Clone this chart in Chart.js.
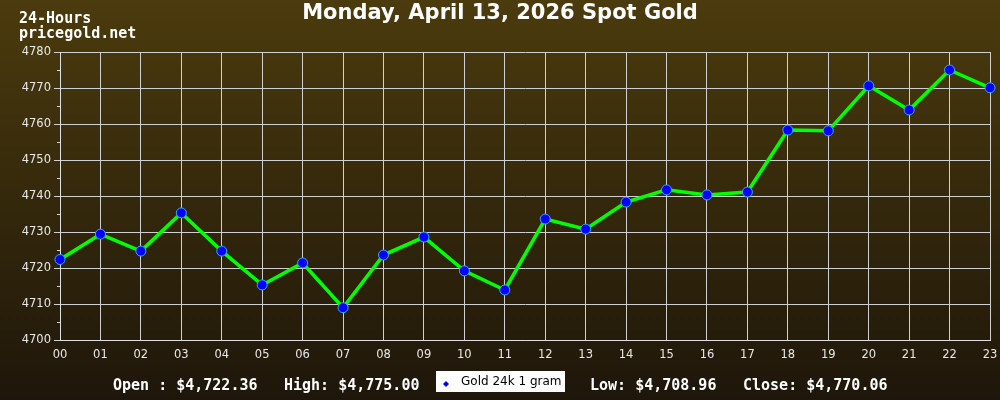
<!DOCTYPE html>
<html>
<head>
<meta charset="utf-8">
<script src="https://cdn.jsdelivr.net/npm/chart.js@4/dist/chart.umd.min.js"></script>
<style>
  html, body { margin: 0; padding: 0; background: #2a200b; }
  #wrap { width: 1000px; height: 400px; }
</style>
</head>
<body>
<div id="wrap"><canvas id="goldChart" width="1000" height="400"></canvas></div>
<script>
const hours = ["00","01","02","03","04","05","06","07","08","09","10","11",
  "12","13","14","15","16","17","18","19","20","21","22","23"];
const prices = [4722.36, 4729.4, 4724.7, 4735.3, 4724.7, 4715.3, 4721.4, 4708.96,
  4723.6, 4728.6, 4719.2, 4713.9, 4733.6, 4730.8, 4738.3, 4741.7,
  4740.3, 4741.1, 4758.3, 4758.1, 4770.6, 4763.9, 4775.0, 4770.06];
const yTicks = [4700, 4710, 4720, 4730, 4740, 4750, 4760, 4770, 4780];
const title = "Monday, April 13, 2026 Spot Gold";
const seriesName = "Gold 24k 1 gram";
const stats = ["Open : $4,722.36", "High: $4,775.00", "Low: $4,708.96", "Close: $4,770.06"];

// background, header, footer, legend box, minor ticks
const decor = {
  id: "decor",
  beforeDraw(chart) {
    const ctx = chart.ctx;
    const g = ctx.createLinearGradient(0, 0, 0, chart.height);
    g.addColorStop(0, "#4b3b0d");
    g.addColorStop(1, "#1e160a");
    ctx.save();
    ctx.fillStyle = g;
    ctx.fillRect(0, 0, chart.width, chart.height);
    ctx.restore();
  },
  afterDraw(chart) {
    const ctx = chart.ctx;
    const y = chart.scales.y;
    const area = chart.chartArea;
    ctx.save();
    // minor ticks at the 5s
    ctx.strokeStyle = "#d8d8d8";
    ctx.lineWidth = 1;
    for (let v = 4705; v < 4780; v += 10) {
      const py = Math.round(y.getPixelForValue(v)) + 0.5;
      ctx.beginPath();
      ctx.moveTo(area.left - 3, py);
      ctx.lineTo(area.left, py);
      ctx.stroke();
    }
    // title
    ctx.fillStyle = "#ffffff";
    ctx.textAlign = "center";
    ctx.textBaseline = "middle";
    ctx.font = "bold 21px 'DejaVu Sans'";
    ctx.fillText(title, 500, 14);
    // header
    ctx.textAlign = "left";
    ctx.font = "bold 15px 'DejaVu Sans Mono'";
    ctx.fillText("24-Hours", 19, 19);
    ctx.fillText("pricegold.net", 19, 34);
    // stats
    ctx.font = "bold 15px 'DejaVu Sans Mono'";
    ctx.fillText(stats[0], 113, 386);
    ctx.fillText(stats[1], 284, 386);
    ctx.fillText(stats[2], 590, 386);
    ctx.fillText(stats[3], 743, 386);
    // legend box
    ctx.fillStyle = "#ffffff";
    ctx.fillRect(436, 371, 129, 21);
    ctx.fillStyle = "#0000ff";
    ctx.beginPath();
    ctx.moveTo(446, 381);
    ctx.lineTo(449, 384);
    ctx.lineTo(446, 387);
    ctx.lineTo(443, 384);
    ctx.closePath();
    ctx.fill();
    ctx.fillStyle = "#000000";
    ctx.font = "12px 'DejaVu Sans'";
    ctx.fillText(seriesName, 461, 382);
    ctx.restore();
  }
};

const ctx = document.getElementById("goldChart").getContext("2d");
window.goldChart = new Chart(ctx, {
  type: "line",
  data: {
    labels: hours,
    datasets: [
      {
        label: seriesName,
        data: prices,
        borderColor: "#00ff00",
        borderWidth: 3.5,
        pointBackgroundColor: "#0000ff",
        pointBorderColor: "#33aaff",
        pointBorderWidth: 1,
        pointRadius: 5,
        tension: 0
      }
    ]
  },
  options: {
    responsive: false,
    animation: false,
    layout: { padding: { top: 52, left: 0, right: 0, bottom: 0 } },
    plugins: {
      legend: { display: false },
      title: { display: false },
      tooltip: { enabled: false }
    },
    scales: {
      x: {
        offset: false,
        grid: { color: "#d0d0d0", lineWidth: 1, drawTicks: false },
        border: { color: "#e0e0e0" },
        ticks: {
          color: "#e8e8e8",
          font: { family: "DejaVu Sans", size: 11.5 },
          padding: 8,
          maxRotation: 0,
          autoSkip: false
        },
        afterFit: s => {
          s.height = 60;
          s.paddingLeft = 0;
          s.paddingRight = 10;
        }
      },
      y: {
        min: 4700,
        max: 4780,
        afterBuildTicks: s => { s.ticks = yTicks.map(v => ({ value: v })); },
        grid: { color: "#d0d0d0", lineWidth: 1, tickLength: 6 },
        border: { color: "#e0e0e0" },
        ticks: {
          color: "#e8e8e8",
          font: { family: "DejaVu Sans", size: 11.5 },
          padding: 3,
          callback: v => String(v)
        },
        afterFit: s => { s.width = 60; }
      }
    }
  },
  plugins: [decor]
});
</script>
</body>
</html>
